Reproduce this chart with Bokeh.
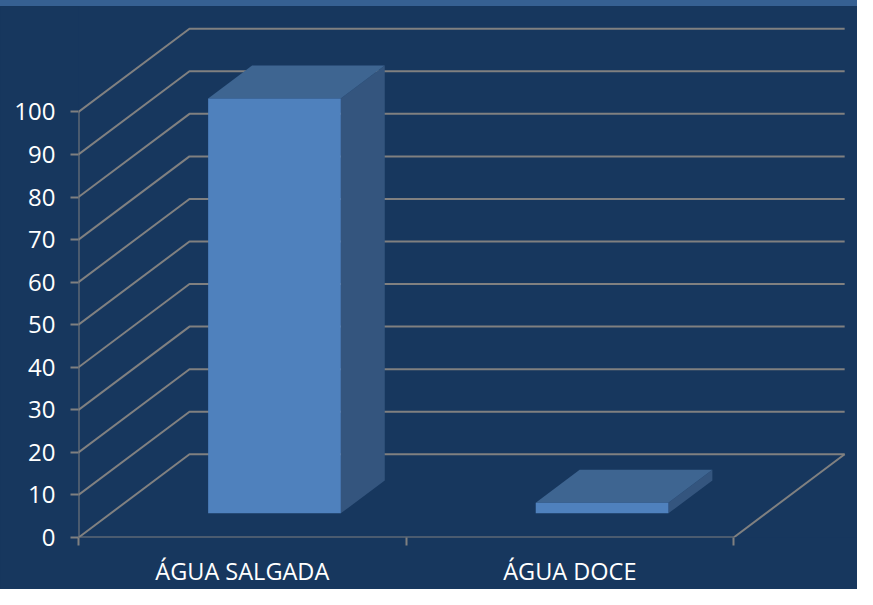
from bokeh.plotting import figure
from bokeh.models import FixedTicker, Range1d, Div
from bokeh.layouts import column
from bokeh.embed import file_html
from bokeh.resources import INLINE

# ---- data ----
categories = ["ÁGUA SALGADA", "ÁGUA DOCE"]
values = [97.5, 2.5]
y_ticks = [0, 10, 20, 30, 40, 50, 60, 70, 80, 90, 100]

# ---- style / geometry ----
BG = "#17375E"
BAND = "#366092"
GRID = "#808080"
FRONT = "#4F81BD"
TOP = "#3E6591"
SIDE = "#34557E"
DX, DY = 0.3388, 19.55        # depth offset in data units (x, y)
T0, T1 = 0.29, 0.686          # bar front/back depth fractions
BAR_W = 0.405

W = 857
BAND_H = 6
H = 589 - BAND_H

band = Div(text="", width=W, height=BAND_H, margin=0,
           styles={"background-color": BAND})

p = figure(width=W, height=H, output_backend="svg", toolbar_location=None,
           x_range=Range1d(0, 2.378), y_range=Range1d(0, 124.77),
           min_border_left=78, min_border_right=0, min_border_top=0, min_border_bottom=49,
           margin=0, styles={"background-color": BG})
p.background_fill_color = BG
p.border_fill_color = BG
p.outline_line_color = None
p.xgrid.visible = False
p.ygrid.visible = False

# side wall diagonals + back wall lines
for v in y_ticks:
    p.line([0, DX, 2 + DX], [v, v + DY, v + DY], line_color=GRID, line_width=2)
# front vertical axis line, floor
p.line([0, 0], [0, 100], line_color=GRID, line_width=2)
p.line([0, 2, 2 + DX], [0, 0, DY], line_color=GRID, line_width=2)

# bars as 3D boxes
for i, v in enumerate(values):
    c = i + 0.5
    x0 = c - BAR_W / 2
    x1 = c + BAR_W / 2
    fx0, fx1 = x0 + T0 * DX, x1 + T0 * DX
    bx0, bx1 = x0 + T1 * DX, x1 + T1 * DX
    fy0, fy1 = T0 * DY, v + T0 * DY
    by0, by1 = T1 * DY, v + T1 * DY
    p.patch([fx1, bx1, bx1, fx1], [fy0, by0, by1, fy1], fill_color=SIDE, line_color=None)
    p.patch([fx0, fx1, bx1, bx0], [fy1, fy1, by1, by1], fill_color=TOP, line_color=None)
    p.patch([fx0, fx1, fx1, fx0], [fy0, fy0, fy1, fy1], fill_color=FRONT, line_color=None)

# y axis
ya = p.yaxis[0]
ya.ticker = FixedTicker(ticks=y_ticks)
ya.axis_line_color = None
ya.major_tick_line_color = GRID
ya.major_tick_line_width = 2
ya.major_tick_out = 8
ya.major_tick_in = 0
ya.minor_tick_line_color = None
ya.major_label_text_color = "white"
ya.major_label_text_font = "Open Sans"
ya.major_label_text_font_size = "24px"
ya.major_label_standoff = 15

# x axis
xa = p.xaxis[0]
xa.ticker = FixedTicker(ticks=[0.5, 1.5], minor_ticks=[0, 1, 2])
xa.major_label_overrides = {0.5: categories[0], 1.5: categories[1]}
xa.axis_line_color = None
xa.major_tick_line_color = None
xa.major_tick_out = 0
xa.minor_tick_line_color = GRID
xa.minor_tick_line_width = 2
xa.minor_tick_out = 8
xa.minor_tick_in = 0
xa.major_label_text_color = "white"
xa.major_label_text_font = "Open Sans"
xa.major_label_text_font_size = "23.5px"
xa.major_label_standoff = 9

layout = column(band, p, spacing=0)
open("out.html", "w").write(file_html(layout, INLINE))
